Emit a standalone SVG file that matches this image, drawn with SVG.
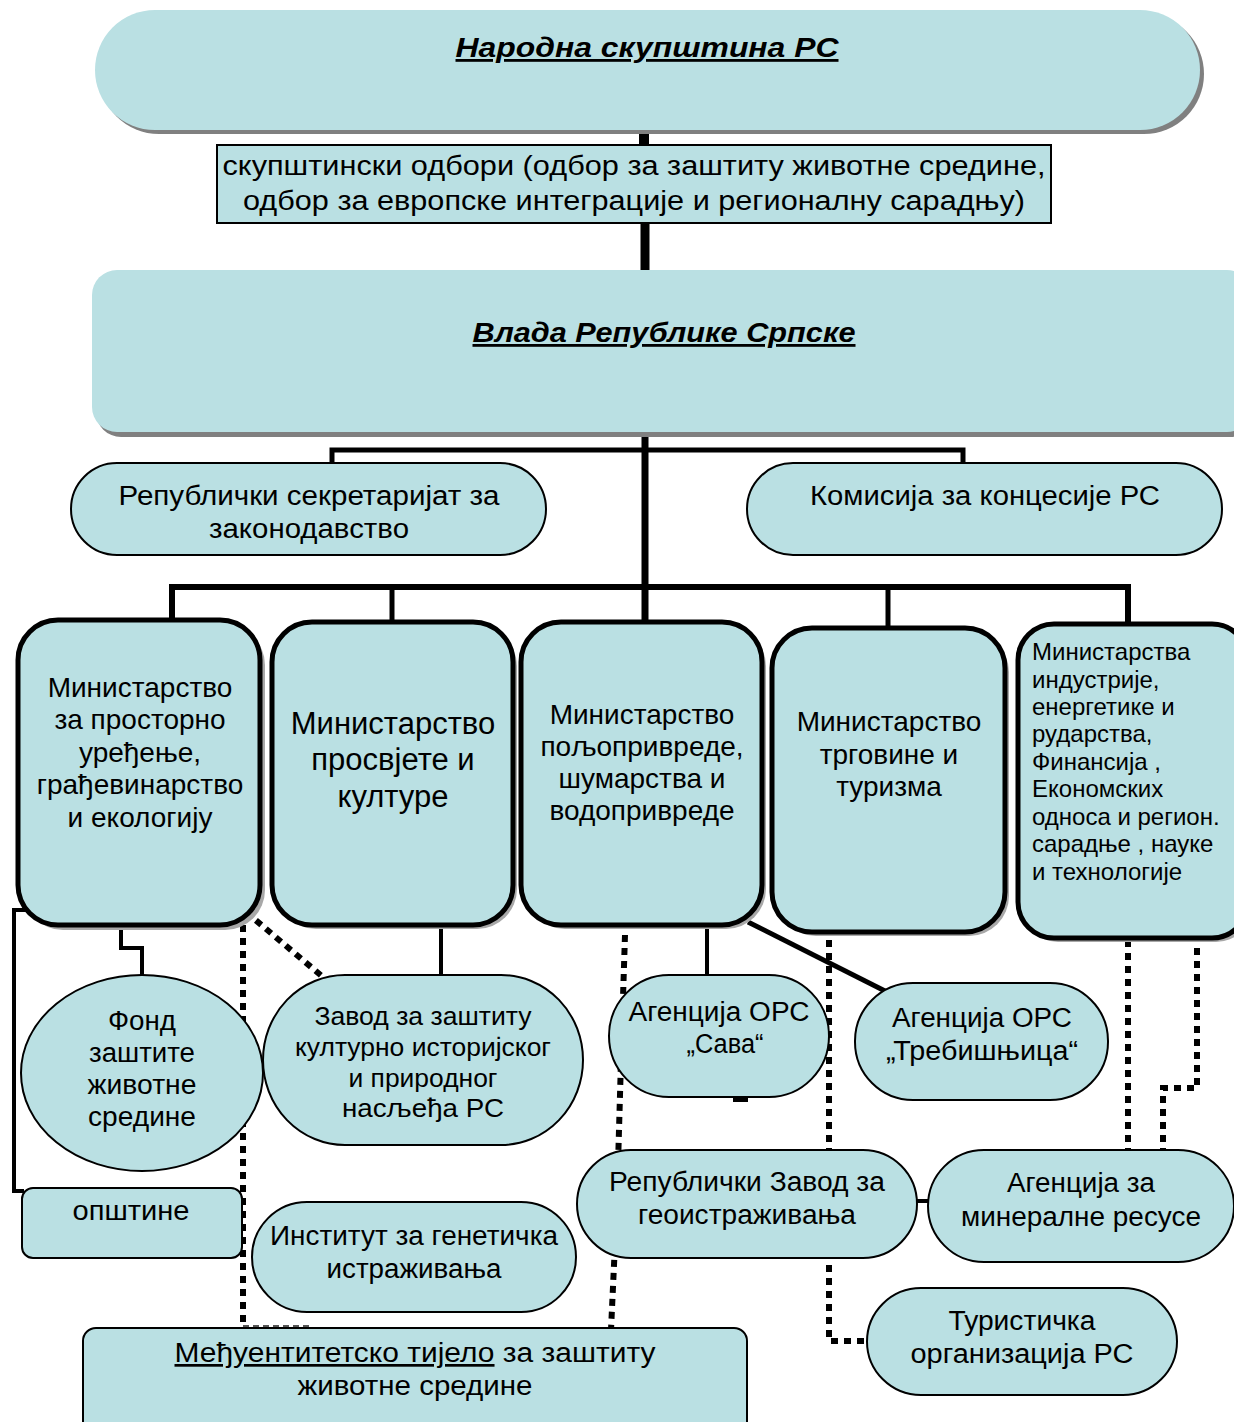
<svg xmlns="http://www.w3.org/2000/svg" width="1234" height="1422" viewBox="0 0 1234 1422">
<style>
.fill{fill:#BAE0E3}
.top{fill:#BAE0E3}
.sh{fill:#808080}
.msh{fill:#A8A8A8}
.min{fill:#BAE0E3;stroke:#000;stroke-width:5}
.nd{fill:#BAE0E3;stroke:#000;stroke-width:2}
.t{font-family:"Liberation Sans",Arial,sans-serif;fill:#000;text-anchor:middle}
.tb{font-family:"Liberation Sans",Arial,sans-serif;font-weight:bold;font-style:italic;fill:#000;text-anchor:middle;text-decoration:underline}
.sol{fill:none;stroke:#000;stroke-linejoin:miter}
.dot{fill:none;stroke:#000;stroke-width:6;stroke-dasharray:7 6}
</style>
<rect width="1234" height="1422" fill="#fff"/>
<g id="connectors">
<line class="sol" x1="644" y1="128" x2="644" y2="147" stroke-width="10"/>
<line class="sol" x1="645" y1="222" x2="645" y2="272" stroke-width="9"/>
<line class="sol" x1="645" y1="430" x2="645" y2="624" stroke-width="7"/>
<polyline class="sol" points="332,465 332,450 963,450 963,465" stroke-width="5"/>
<polyline class="sol" points="172,622 172,587 1128,587 1128,626" stroke-width="6"/>
<line class="sol" x1="392" y1="587" x2="392" y2="624" stroke-width="5"/>
<line class="sol" x1="888" y1="587" x2="888" y2="630" stroke-width="5"/>
<polyline class="sol" points="40,910 14,910 14,1191 24,1191" stroke-width="4"/>
<polyline class="sol" points="121,925 121,948 142,948 142,977" stroke-width="4"/>
<line class="sol" x1="441" y1="925" x2="441" y2="977" stroke-width="4"/>
<line class="sol" x1="707" y1="925" x2="707" y2="977" stroke-width="4"/>
<line class="sol" x1="748" y1="922" x2="889" y2="993" stroke-width="5"/>
<line class="sol" x1="733" y1="1100" x2="748" y2="1100" stroke-width="4"/>
<line class="sol" x1="915" y1="1201" x2="930" y2="1201" stroke-width="4"/>
<line class="dot" x1="243" y1="912" x2="243" y2="1326"/>
<line x1="243" y1="1326" x2="310" y2="1326" stroke="#555" stroke-width="2" stroke-dasharray="6 4"/>
<line class="dot" x1="246" y1="912" x2="330" y2="983"/>
<polyline class="dot" points="625,935 621,1060 617,1200 611,1330"/>
<polyline class="dot" points="829,940 829,1341 868,1341"/>
<line class="dot" x1="1128" y1="940" x2="1128" y2="1152"/>
<polyline class="dot" points="1197,948 1197,1088 1163,1088 1163,1152"/>
</g>
<g id="n-skupstina">
<rect class="sh" x="99" y="14" width="1105" height="120" rx="60" ry="60"/>
<rect class="top" x="95" y="10" width="1105" height="120" rx="60" ry="60"/>
<text class="tb" x="647" y="57" font-size="28" textLength="383" lengthAdjust="spacingAndGlyphs">Народна скупштина РС</text>
</g>
<g id="n-odbori">
<rect x="217" y="145" width="834" height="78" fill="#BAE0E3" stroke="#000" stroke-width="2"/>
<text class="t" x="634" y="175" font-size="27" textLength="823" lengthAdjust="spacingAndGlyphs">скупштински одбори (одбор за заштиту животне средине,</text>
<text class="t" x="634" y="210" font-size="27" textLength="782" lengthAdjust="spacingAndGlyphs">одбор за европске интеграције и регионалну сарадњу)</text>
</g>
<g id="n-vlada">
<rect class="sh" x="96" y="275" width="1160" height="162" rx="25" ry="25"/>
<rect class="top" x="92" y="270" width="1160" height="162" rx="25" ry="25"/>
<text class="tb" x="664" y="342" font-size="28" textLength="383" lengthAdjust="spacingAndGlyphs">Влада Републике Српске</text>
</g>
<g id="n-sekretarijat">
<rect class="nd" x="71" y="463" width="475" height="92" rx="46"/>
<text class="t" x="309" y="505" font-size="27" textLength="381" lengthAdjust="spacingAndGlyphs">Републички секретаријат за</text>
<text class="t" x="309" y="538" font-size="27" textLength="200" lengthAdjust="spacingAndGlyphs">законодавство</text>
</g>
<g id="n-komisija">
<rect class="nd" x="747" y="463" width="475" height="92" rx="46"/>
<text class="t" x="985" y="505" font-size="27" textLength="350" lengthAdjust="spacingAndGlyphs">Комисија за концесије РС</text>
</g>
<g id="n-min1">
<rect class="msh" x="23" y="625" width="242" height="305" rx="40"/>
<rect class="min" x="18" y="620" width="242" height="305" rx="40" stroke-width="8"/>
<text class="t" x="140" y="697" font-size="28">Министарство</text>
<text class="t" x="140" y="729" font-size="28">за просторно</text>
<text class="t" x="140" y="762" font-size="28">уређење,</text>
<text class="t" x="140" y="794" font-size="28">грађевинарство</text>
<text class="t" x="140" y="827" font-size="28">и екологију</text>
</g>
<g id="n-min2">
<rect class="msh" x="276" y="626" width="241" height="303" rx="40"/>
<rect class="min" x="272" y="622" width="241" height="303" rx="40"/>
<text class="t" x="393" y="734" font-size="31">Министарство</text>
<text class="t" x="393" y="770" font-size="31">просвјете и</text>
<text class="t" x="393" y="807" font-size="31">културе</text>
</g>
<g id="n-min3">
<rect class="msh" x="525" y="626" width="241" height="303" rx="40"/>
<rect class="min" x="521" y="622" width="241" height="303" rx="40"/>
<text class="t" x="642" y="724" font-size="28">Министарство</text>
<text class="t" x="642" y="756" font-size="28">пољопривреде,</text>
<text class="t" x="642" y="788" font-size="28">шумарства и</text>
<text class="t" x="642" y="820" font-size="28">водопривреде</text>
</g>
<g id="n-min4">
<rect class="msh" x="776" y="632" width="233" height="304" rx="40"/>
<rect class="min" x="772" y="628" width="233" height="304" rx="40"/>
<text class="t" x="889" y="731" font-size="28">Министарство</text>
<text class="t" x="889" y="764" font-size="28">трговине и</text>
<text class="t" x="889" y="796" font-size="28">туризма</text>
</g>
<g id="n-min5">
<rect class="msh" x="1022" y="628" width="230" height="314" rx="36"/>
<rect class="min" x="1018" y="624" width="230" height="314" rx="36"/>
<g font-family="Liberation Sans, Arial, sans-serif" font-size="24" fill="#000">
<text x="1032" y="660">Министарства</text>
<text x="1032" y="688">индустрије,</text>
<text x="1032" y="715">енергетике и</text>
<text x="1032" y="742">рударства,</text>
<text x="1032" y="770">Финансија ,</text>
<text x="1032" y="797">Економских</text>
<text x="1032" y="825">односа и регион.</text>
<text x="1032" y="852">сарадње , науке</text>
<text x="1032" y="880">и технологије</text>
</g>
</g>
<g id="n-fond">
<ellipse class="nd" cx="142" cy="1073" rx="121" ry="98"/>
<text class="t" x="142" y="1030" font-size="27" textLength="68" lengthAdjust="spacingAndGlyphs">Фонд</text>
<text class="t" x="142" y="1062" font-size="27" textLength="106" lengthAdjust="spacingAndGlyphs">заштите</text>
<text class="t" x="142" y="1094" font-size="27" textLength="109" lengthAdjust="spacingAndGlyphs">животне</text>
<text class="t" x="142" y="1126" font-size="27" textLength="108" lengthAdjust="spacingAndGlyphs">средине</text>
</g>
<g id="n-zavod">
<rect class="nd" x="263" y="975" width="320" height="170" rx="82" ry="85"/>
<text class="t" x="423" y="1025" font-size="25" textLength="217" lengthAdjust="spacingAndGlyphs">Завод за заштиту</text>
<text class="t" x="423" y="1056" font-size="25" textLength="256" lengthAdjust="spacingAndGlyphs">културно историјског</text>
<text class="t" x="423" y="1087" font-size="25" textLength="149" lengthAdjust="spacingAndGlyphs">и природног</text>
<text class="t" x="423" y="1117" font-size="25" textLength="162" lengthAdjust="spacingAndGlyphs">насљеђа  РС</text>
</g>
<g id="n-sava">
<rect class="nd" x="609" y="975" width="220" height="122" rx="60" ry="61"/>
<text class="t" x="719" y="1021" font-size="27" textLength="181" lengthAdjust="spacingAndGlyphs">Агенција ОРС</text>
<text class="t" x="725" y="1053" font-size="27" textLength="77" lengthAdjust="spacingAndGlyphs">„Сава“</text>
</g>
<g id="n-trebisnjica">
<rect class="nd" x="855" y="983" width="253" height="117" rx="58" ry="58"/>
<text class="t" x="982" y="1027" font-size="27" textLength="180" lengthAdjust="spacingAndGlyphs">Агенција ОРС</text>
<text class="t" x="982" y="1060" font-size="27" textLength="192" lengthAdjust="spacingAndGlyphs">„Требишњица“</text>
</g>
<g id="n-opstine">
<rect class="nd" x="22" y="1188" width="220" height="70" rx="11"/>
<text class="t" x="131" y="1220" font-size="27" textLength="117" lengthAdjust="spacingAndGlyphs">општине</text>
</g>
<g id="n-institut">
<rect class="nd" x="252" y="1202" width="324" height="110" rx="55"/>
<text class="t" x="414" y="1245" font-size="27" textLength="288" lengthAdjust="spacingAndGlyphs">Институт за генетичка</text>
<text class="t" x="414" y="1278" font-size="27" textLength="175" lengthAdjust="spacingAndGlyphs">истраживања</text>
</g>
<g id="n-rzg">
<rect class="nd" x="577" y="1150" width="340" height="108" rx="54"/>
<text class="t" x="747" y="1191" font-size="27" textLength="276" lengthAdjust="spacingAndGlyphs">Републички Завод за</text>
<text class="t" x="747" y="1224" font-size="27" textLength="218" lengthAdjust="spacingAndGlyphs">геоистраживања</text>
</g>
<g id="n-mineralne">
<rect class="nd" x="928" y="1150" width="306" height="112" rx="56"/>
<text class="t" x="1081" y="1192" font-size="27" textLength="148" lengthAdjust="spacingAndGlyphs">Агенција за</text>
<text class="t" x="1081" y="1226" font-size="27" textLength="240" lengthAdjust="spacingAndGlyphs">минералне ресусе</text>
</g>
<g id="n-turisticka">
<rect class="nd" x="867" y="1288" width="310" height="107" rx="54"/>
<text class="t" x="1022" y="1330" font-size="27" textLength="147" lengthAdjust="spacingAndGlyphs">Туристичка</text>
<text class="t" x="1022" y="1363" font-size="27" textLength="223" lengthAdjust="spacingAndGlyphs">организација РС</text>
</g>
<g id="n-medjuentitetsko">
<rect class="nd" x="83" y="1328" width="664" height="110" rx="13"/>
<text class="t" x="415" y="1362" font-size="27" textLength="481" lengthAdjust="spacingAndGlyphs"><tspan text-decoration="underline">Међуентитетско  тијело</tspan> за заштиту</text>
<text class="t" x="415" y="1395" font-size="27" textLength="235" lengthAdjust="spacingAndGlyphs">животне средине</text>
</g>
</svg>
